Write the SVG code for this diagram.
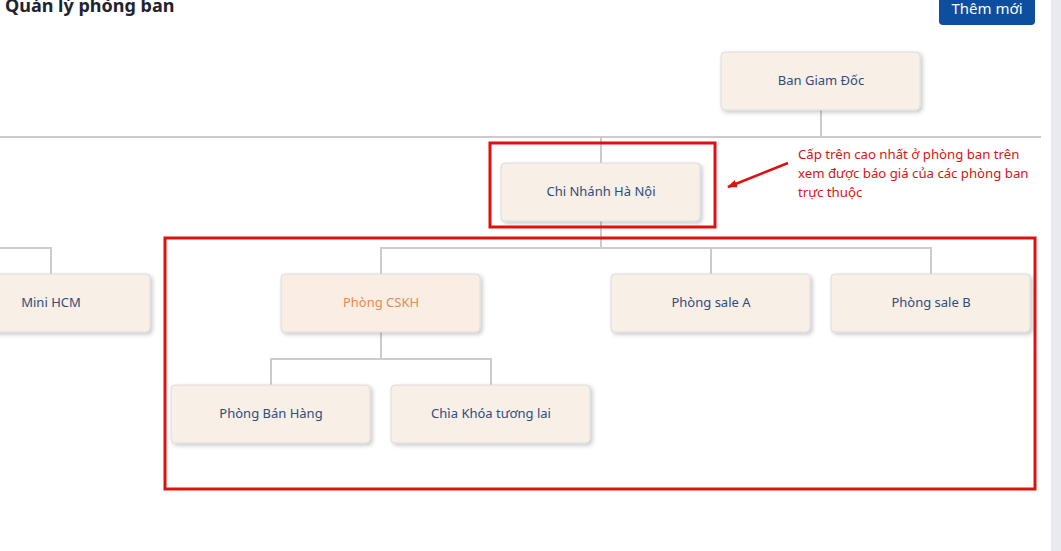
<svg xmlns="http://www.w3.org/2000/svg" width="1061" height="551" viewBox="0 0 1061 551">
<defs>
<filter id="sh" x="-10%" y="-20%" width="130%" height="150%">
<feDropShadow dx="2" dy="2" stdDeviation="2" flood-color="#000" flood-opacity="0.22"/>
</filter>
<marker id="ah" markerWidth="10" markerHeight="8" refX="9" refY="4" orient="auto" markerUnits="userSpaceOnUse">
<path d="M0,0 L10,4 L0,8 z" fill="#e01010"/>
</marker>
<style>
.node rect{fill:#f8efe6;stroke:#dcdcdc;stroke-width:1;filter:url(#sh)}
.node text{font-family:"Noto Sans","Open Sans",sans-serif;font-size:13px;fill:#2e4d80;text-anchor:middle}
.node text.hl{fill:#e8894d}
.conn path{fill:none;stroke:#cccccc;stroke-width:2}
.hlbox{fill:none;stroke:#e01010;stroke-width:3}
.note{font-family:"Noto Sans","Open Sans",sans-serif;font-size:13.2px;fill:#d81414}
</style>
</defs>
<rect width="1061" height="551" fill="#ffffff"/>
<rect x="1051" y="0" width="10" height="551" fill="#e9eaef"/>
<text x="5" y="12" font-family="'Noto Sans','Open Sans',sans-serif" font-size="18" font-weight="bold" fill="#1e2330">Quản lý phòng ban</text>
<g id="btn-them-moi">
<rect x="939" y="-6" width="96" height="31" rx="4" fill="#0d4e9e"/>
<text x="987" y="14" font-family="'Noto Sans','Open Sans',sans-serif" font-size="15" fill="#ffffff" text-anchor="middle">Thêm mới</text>
</g>
<g class="conn" id="connectors">
<path d="M821,110 V137"/>
<path d="M0,137 H1041"/>
<path d="M601,137 V163"/>
<path d="M601,221 V248"/>
<path d="M381,274 V248 H931 V274"/>
<path d="M711,248 V274"/>
<path d="M0,248 H51 V274"/>
<path d="M381,332 V359"/>
<path d="M271,385 V359 H491 V385"/>
</g>
<g class="node" id="n-ban-giam-doc"><rect x="721" y="52" width="199" height="58" rx="4"/><text x="821" y="85">Ban Giam Đốc</text></g>
<g class="node" id="n-chi-nhanh-ha-noi"><rect x="501" y="163" width="199" height="58" rx="4"/><text x="601" y="196">Chi Nhánh Hà Nội</text></g>
<g class="node" id="n-mini-hcm"><rect x="-49" y="274" width="199" height="58" rx="4"/><text x="51" y="307">Mini HCM</text></g>
<g class="node" id="n-phong-cskh"><rect x="281" y="274" width="199" height="58" rx="4" style="fill:#faede4"/><text class="hl" x="381" y="307">Phòng CSKH</text></g>
<g class="node" id="n-phong-sale-a"><rect x="611" y="274" width="199" height="58" rx="4"/><text x="711" y="307">Phòng sale A</text></g>
<g class="node" id="n-phong-sale-b"><rect x="831" y="274" width="199" height="58" rx="4"/><text x="931" y="307">Phòng sale B</text></g>
<g class="node" id="n-phong-ban-hang"><rect x="171" y="385" width="199" height="58" rx="4"/><text x="271" y="418">Phòng Bán Hàng</text></g>
<g class="node" id="n-chia-khoa"><rect x="391" y="385" width="199" height="58" rx="4"/><text x="491" y="418">Chìa Khóa tương lai</text></g>
<g id="annotation">
<rect class="hlbox" x="490" y="143" width="225" height="84"/>
<rect class="hlbox" x="165" y="238" width="870" height="251"/>
<path d="M788,163 L728,187" stroke="#e01010" stroke-width="2.5" fill="none" marker-end="url(#ah)"/>
<text class="note" x="798" y="159">Cấp trên cao nhất ở phòng ban trên</text>
<text class="note" x="798" y="178">xem được báo giá của các phòng ban</text>
<text class="note" x="798" y="197">trực thuộc</text>
</g>
</svg>
